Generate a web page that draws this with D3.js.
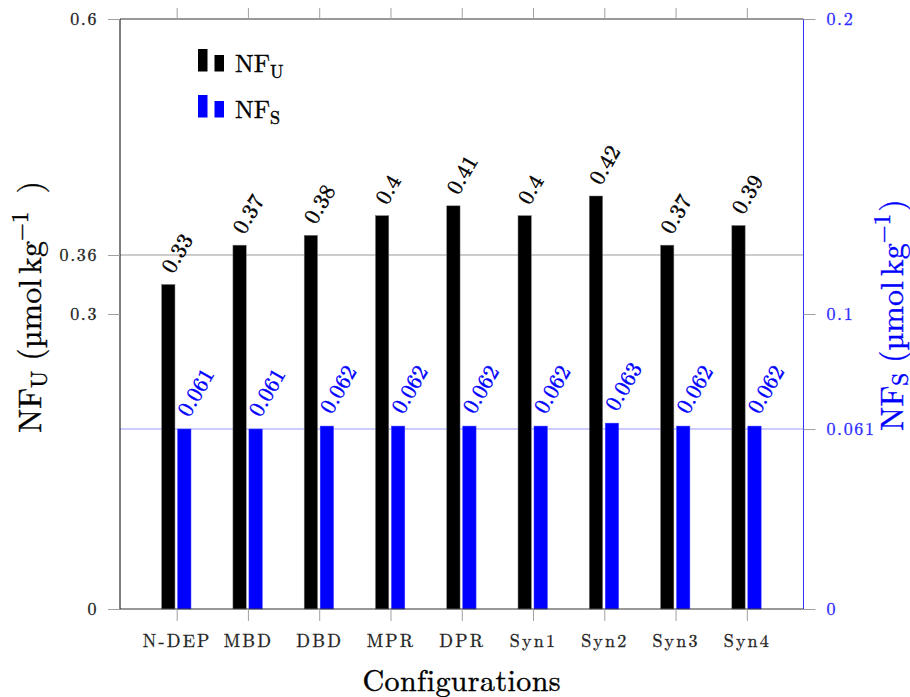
<!DOCTYPE html>
<html>
<head>
<meta charset="utf-8">
<script src="https://cdn.jsdelivr.net/npm/d3@7"></script>
<style>
  html, body { margin: 0; padding: 0; background: #fff; }
  svg { display: block; }
</style>
</head>
<body>
<div id="chart"></div>
<script>
// ---- data ----
const categories = ["N-DEP", "MBD", "DBD", "MPR", "DPR", "Syn1", "Syn2", "Syn3", "Syn4"];
const nfU = [0.33, 0.37, 0.38, 0.40, 0.41, 0.40, 0.42, 0.37, 0.39];
const nfS = [0.061, 0.061, 0.062, 0.062, 0.062, 0.062, 0.063, 0.062, 0.062];
const leftTicks = [0, 0.3, 0.36, 0.6];
const leftTickLabels = ["0", "0.3", "0.36", "0.6"];
const rightTicks = [0, 0.061, 0.1, 0.2];
const rightTickLabels = ["0", "0.061", "0.1", "0.2"];
const leftDomain = [0, 0.6];
const rightDomain = [0, 0.2];

// ---- layout ----
const FONT = "'Latin Modern Roman', 'Liberation Serif', 'DejaVu Serif', serif";
const W = 910, H = 697;
const L = 120, R = 803.5, T = 19, B = 609;
const BLUE = "#0000ff";

const svg = d3.select("#chart").append("svg")
  .attr("width", W).attr("height", H).attr("font-family", FONT);

const x = d3.scalePoint().domain(categories).range([L, R]).padding(0.795);
const yL = d3.scaleLinear().domain(leftDomain).range([B, T]);
const yR = d3.scaleLinear().domain(rightDomain).range([B, T]);

const barW = 13.3;

// helper to thicken thin Latin Modern glyphs a little
function ink(sel, color, w) {
  return sel.attr("fill", color).attr("stroke", color).attr("stroke-width", w).attr("paint-order", "stroke");
}

// reference lines
svg.append("line").attr("x1", L).attr("x2", R).attr("y1", yL(0.36)).attr("y2", yL(0.36))
  .attr("stroke", "#9a9a9a").attr("stroke-width", 1.1);
svg.append("line").attr("x1", L).attr("x2", R).attr("y1", yR(0.061)).attr("y2", yR(0.061))
  .attr("stroke", "#9999ff").attr("stroke-width", 1.1);

// bars
svg.append("g").selectAll("rect").data(categories).join("rect")
  .attr("x", (d) => x(d) - 15)
  .attr("width", barW)
  .attr("y", (d, i) => yL(nfU[i]))
  .attr("height", (d, i) => B - yL(nfU[i]))
  .attr("fill", "#000").attr("stroke", "#777").attr("stroke-width", 0.5);

svg.append("g").selectAll("rect").data(categories).join("rect")
  .attr("x", (d) => x(d) + 1)
  .attr("width", barW)
  .attr("y", (d, i) => yR(nfS[i]))
  .attr("height", (d, i) => B - yR(nfS[i]))
  .attr("fill", BLUE).attr("stroke", "#3333ff").attr("stroke-width", 0.5);

// bar value labels
ink(svg.append("g").selectAll("text").data(categories).join("text")
  .attr("transform", (d, i) => `translate(${x(d) - 15 + barW / 2 + 5},${yL(nfU[i]) - 10}) rotate(-60)`)
  .attr("font-family", FONT).attr("font-size", 22).attr("letter-spacing", 0.4)
  .text((d, i) => String(nfU[i])), "#000", 0.45);

ink(svg.append("g").selectAll("text").data(categories).join("text")
  .attr("transform", (d, i) => `translate(${x(d) + 1 + barW / 2 + 5},${yR(nfS[i]) - 11}) rotate(-60)`)
  .attr("font-family", FONT).attr("font-size", 22).attr("letter-spacing", 0.2)
  .text((d, i) => String(nfS[i])), BLUE, 0.45);

// frame
svg.append("line").attr("x1", L).attr("x2", R).attr("y1", T).attr("y2", T).attr("stroke", "#333").attr("stroke-width", 1);
svg.append("line").attr("x1", L).attr("x2", R).attr("y1", B).attr("y2", B).attr("stroke", "#333").attr("stroke-width", 1);
svg.append("line").attr("x1", L).attr("x2", L).attr("y1", T).attr("y2", B).attr("stroke", "#000").attr("stroke-width", 1);
svg.append("line").attr("x1", R).attr("x2", R).attr("y1", T).attr("y2", B).attr("stroke", "#3333ff").attr("stroke-width", 1);

// left axis
const leftAxis = d3.axisLeft(yL).tickValues(leftTicks).tickSize(12).tickPadding(10)
  .tickFormat((d, i) => leftTickLabels[i]);
const gl = svg.append("g").attr("transform", `translate(${L},0)`).call(leftAxis)
  .attr("font-family", FONT);
gl.select(".domain").remove();
gl.selectAll(".tick line").attr("stroke", "#a0a0a0");
ink(gl.selectAll(".tick text").attr("font-family", FONT).attr("font-size", 18).attr("letter-spacing", 1.6), "#222", 0.3);

// right axis
const rightAxis = d3.axisRight(yR).tickValues(rightTicks).tickSize(12).tickPadding(11)
  .tickFormat((d, i) => rightTickLabels[i]);
const gr = svg.append("g").attr("transform", `translate(${R},0)`).call(rightAxis)
  .attr("font-family", FONT);
gr.select(".domain").remove();
gr.selectAll(".tick line").attr("stroke", "#a0a0a0");
ink(gr.selectAll(".tick text").attr("font-family", FONT).attr("font-size", 18).attr("letter-spacing", 1.6), "#2a2aff", 0.3);

// bottom axis
const bottomAxis = d3.axisBottom(x).tickSize(12).tickPadding(13);
const gb = svg.append("g").attr("transform", `translate(0,${B})`).call(bottomAxis)
  .attr("font-family", FONT);
gb.select(".domain").remove();
gb.selectAll(".tick line").attr("stroke", "#a0a0a0");
ink(gb.selectAll(".tick text").attr("font-family", FONT).attr("font-size", 18).attr("letter-spacing", 2.2), "#222", 0.3);

// top ticks
const topAxis = d3.axisTop(x).tickSize(11).tickFormat("");
const gt = svg.append("g").attr("transform", `translate(0,${T})`).call(topAxis);
gt.select(".domain").remove();
gt.selectAll(".tick line").attr("stroke", "#a0a0a0");

// x-axis title
ink(svg.append("text").attr("x", (L + R) / 2).attr("y", 691).attr("text-anchor", "middle")
  .attr("font-family", FONT).attr("font-size", 30).attr("letter-spacing", 0.4)
  .text("Configurations"), "#000", 0.4);

// y titles with sub/superscripts
function axisTitle(tx, ty, color, sub, gapBeforeClose, subDrop) {
  const t = svg.append("text").attr("transform", `translate(${tx},${ty}) rotate(-90)`)
    .attr("text-anchor", "middle").attr("font-family", FONT).attr("font-size", 32);
  ink(t, color, 0.4);
  t.append("tspan").text("NF");
  t.append("tspan").attr("font-size", 23).attr("dy", subDrop).text(sub);
  t.append("tspan").attr("dy", -subDrop).attr("dx", 10).text("(\u00B5mol");
  t.append("tspan").attr("dx", 5).text("kg");
  t.append("tspan").attr("font-size", 23).attr("dy", -13).text("\u22121");
  t.append("tspan").attr("dy", 13).attr("dx", gapBeforeClose).text(")");
}
axisTitle(41, 307, "#000", "U", 18, 6);
axisTitle(903, 315, BLUE, "S", 2, 4.5);

// legend
const legendItems = [
  { color: "#000", sub: "U", y: 72 },
  { color: BLUE, sub: "S", y: 118 }
];
const lg = svg.append("g");
legendItems.forEach((it) => {
  lg.append("rect").attr("x", 198).attr("y", it.y - 23).attr("width", 9.5).attr("height", 22.5).attr("fill", it.color);
  lg.append("rect").attr("x", 214.5).attr("y", it.y - 17).attr("width", 9.5).attr("height", 16.5).attr("fill", it.color);
  const t = lg.append("text").attr("x", 235).attr("y", it.y).attr("font-family", FONT).attr("font-size", 25);
  ink(t, "#000", 0.4);
  t.append("tspan").text("NF");
  t.append("tspan").attr("font-size", 18).attr("dy", 6).text(it.sub);
});
</script>
</body>
</html>
